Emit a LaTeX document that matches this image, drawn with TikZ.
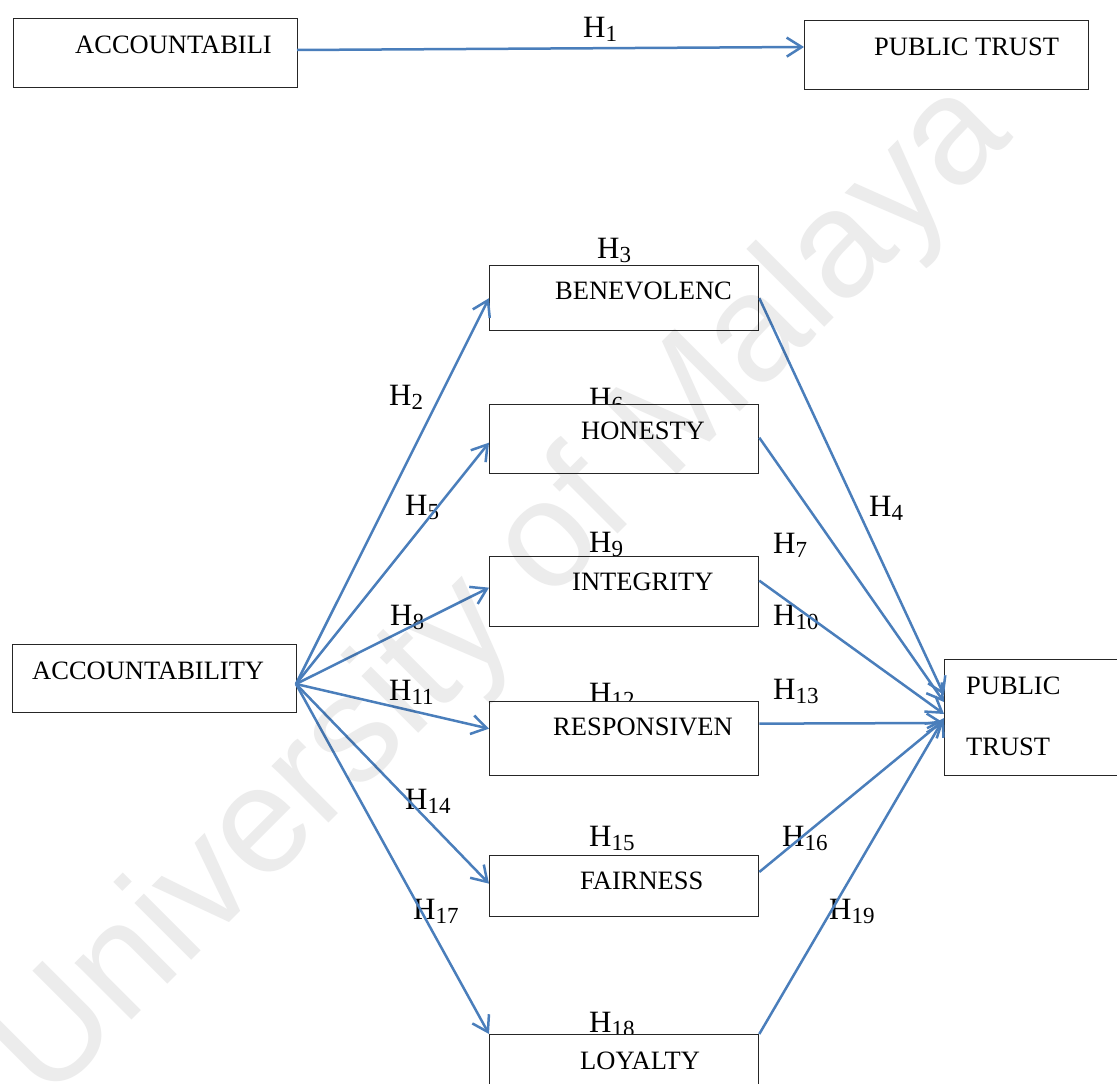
\documentclass[tikz,border=0pt]{standalone}
\usepackage{fontspec}
\setmainfont{Liberation Serif}
\newfontfamily\wmfont{Liberation Sans}
\usetikzlibrary{arrows.meta}
\definecolor{linkblue}{RGB}{74,126,187}
\definecolor{wmgray}{RGB}{236,236,236}
\newcommand\hlab[1]{H\raisebox{-4.5pt}{\fontsize{23}{25}\selectfont #1}}
\tikzset{
  box/.style={draw=black!85, line width=1.3pt, fill=white, inner sep=0pt, anchor=north west},
  boxtext/.style={inner sep=0pt, anchor=base west, font=\fontsize{26.5}{30}\selectfont},
  hyp/.style={inner sep=0pt, anchor=base west, font=\fontsize{31}{34}\selectfont},
  link/.style={draw=linkblue, line width=2.5pt, -{Straight Barb[length=15pt,width=19pt,line width=2.5pt]}},
  wm/.style={inner sep=0pt, anchor=base west, text=wmgray, font=\wmfont\fontsize{152}{152}\selectfont}
}
\begin{document}
\begin{tikzpicture}[x=1pt,y=-1pt]
\useasboundingbox (0,0) rectangle (1117,1084);
\clip (0,0) rectangle (1117,1084);
\fill[white] (0,0) rectangle (1117,1084);

% connector end points on the outer boxes
\coordinate (acc1-e) at (297,50);
\coordinate (pt1-w) at (804,47);
\coordinate (acc-e) at (296,684);

% ---- hypothesis labels (boxes drawn afterwards cover their lower edges) ----
\node[hyp] (h1) at (583,37) {\hlab{1}};
\node[hyp] (h3) at (597,258) {\hlab{3}};
\node[hyp] (h2) at (389,405) {\hlab{2}};
\node[hyp] (h6) at (589,408) {\hlab{6}};
\node[hyp] (h5) at (405,515) {\hlab{5}};
\node[hyp] (h4) at (869,516) {\hlab{4}};
\node[hyp] (h9) at (589,552) {\hlab{9}};
\node[hyp] (h7) at (773,553) {\hlab{7}};
\node[hyp] (h8) at (390,625) {\hlab{8}};
\node[hyp] (h10) at (773,625) {\hlab{10}};
\node[hyp] (h11) at (389,700) {\hlab{11}};
\node[hyp] (h12) at (589,703) {\hlab{12}};
\node[hyp] (h13) at (773,699) {\hlab{13}};
\node[hyp] (h14) at (405,809) {\hlab{14}};
\node[hyp] (h15) at (589,846) {\hlab{15}};
\node[hyp] (h16) at (782,846) {\hlab{16}};
\node[hyp] (h17) at (413,919) {\hlab{17}};
\node[hyp] (h19) at (829,919) {\hlab{19}};
\node[hyp] (h18) at (589,1032) {\hlab{18}};

% ---- boxes ----
\node[box, minimum width=284pt, minimum height=69pt] (acc1) at (13,18) {};
\node[box, minimum width=284pt, minimum height=69pt] (pt1) at (804,20) {};
\node[box, minimum width=269pt, minimum height=65pt] (ben) at (489,265) {};
\node[box, minimum width=269pt, minimum height=69pt] (hon) at (489,404) {};
\node[box, minimum width=269pt, minimum height=70pt] (int) at (489,556) {};
\node[box, minimum width=269pt, minimum height=74pt] (res) at (489,701) {};
\node[box, minimum width=269pt, minimum height=61pt] (fai) at (489,855) {};
\node[box, minimum width=269pt, minimum height=80pt] (loy) at (489,1034) {};
\node[box, minimum width=284pt, minimum height=68pt] (acc) at (12,644) {};
\node[box, minimum width=200pt, minimum height=116pt] (pt) at (944,659) {};

% ---- box texts ----
\node[boxtext] (acc1-t) at (75,53) {ACCOUNTABILI};
\node[boxtext] (pt1-t) at (874,55) {PUBLIC TRUST};
\node[boxtext] (ben-t) at (555,299) {BENEVOLENC};
\node[boxtext] (hon-t) at (581,439) {HONESTY};
\node[boxtext] (int-t) at (572,590) {INTEGRITY};
\node[boxtext] (res-t) at (553,735) {RESPONSIVEN};
\node[boxtext] (fai-t) at (580,889) {FAIRNESS};
\node[boxtext] (loy-t) at (580,1069) {LOYALTY};
\node[boxtext] (acc-t) at (32,679) {ACCOUNTABILITY};
\node[boxtext] (pt-t1) at (966,694) {PUBLIC};
\node[boxtext] (pt-t2) at (966,755) {TRUST};

% ---- connectors (yshift is on the page: positive moves up) ----
\draw[link] (acc1-e) -- (pt1-w);

\draw[link] (acc-e) -- (ben.west);
\draw[link] (acc-e) -- ([yshift=-3.5pt]hon.west);
\draw[link] (acc-e) -- ([yshift=4pt]int.west);
\draw[link] (acc-e) -- ([yshift=10pt]res.west);
\draw[link] (acc-e) -- ([yshift=2.5pt]fai.west);
\draw[link] (acc-e) -- (loy.north west);

\draw[link] (ben.east) -- ([yshift=-36pt]pt.north west);
\draw[link] ([yshift=1.5pt]hon.east) -- ([yshift=-43pt]pt.north west);
\draw[link] ([yshift=11pt]int.east) -- ([yshift=-55pt]pt.north west);
\draw[link] ([yshift=15pt]res.east) -- ([yshift=-64pt]pt.north west);
\draw[link] ([yshift=-17pt]fai.north east) -- ([yshift=-61pt]pt.north west);
\draw[link] (loy.north east) -- ([yshift=-59pt]pt.north west);

% ---- watermark ----
\begin{scope}[blend mode=multiply]
\node[wm, rotate=45] (wmark) at (47,1105) {University of Malaya};
\end{scope}
\end{tikzpicture}
\end{document}
